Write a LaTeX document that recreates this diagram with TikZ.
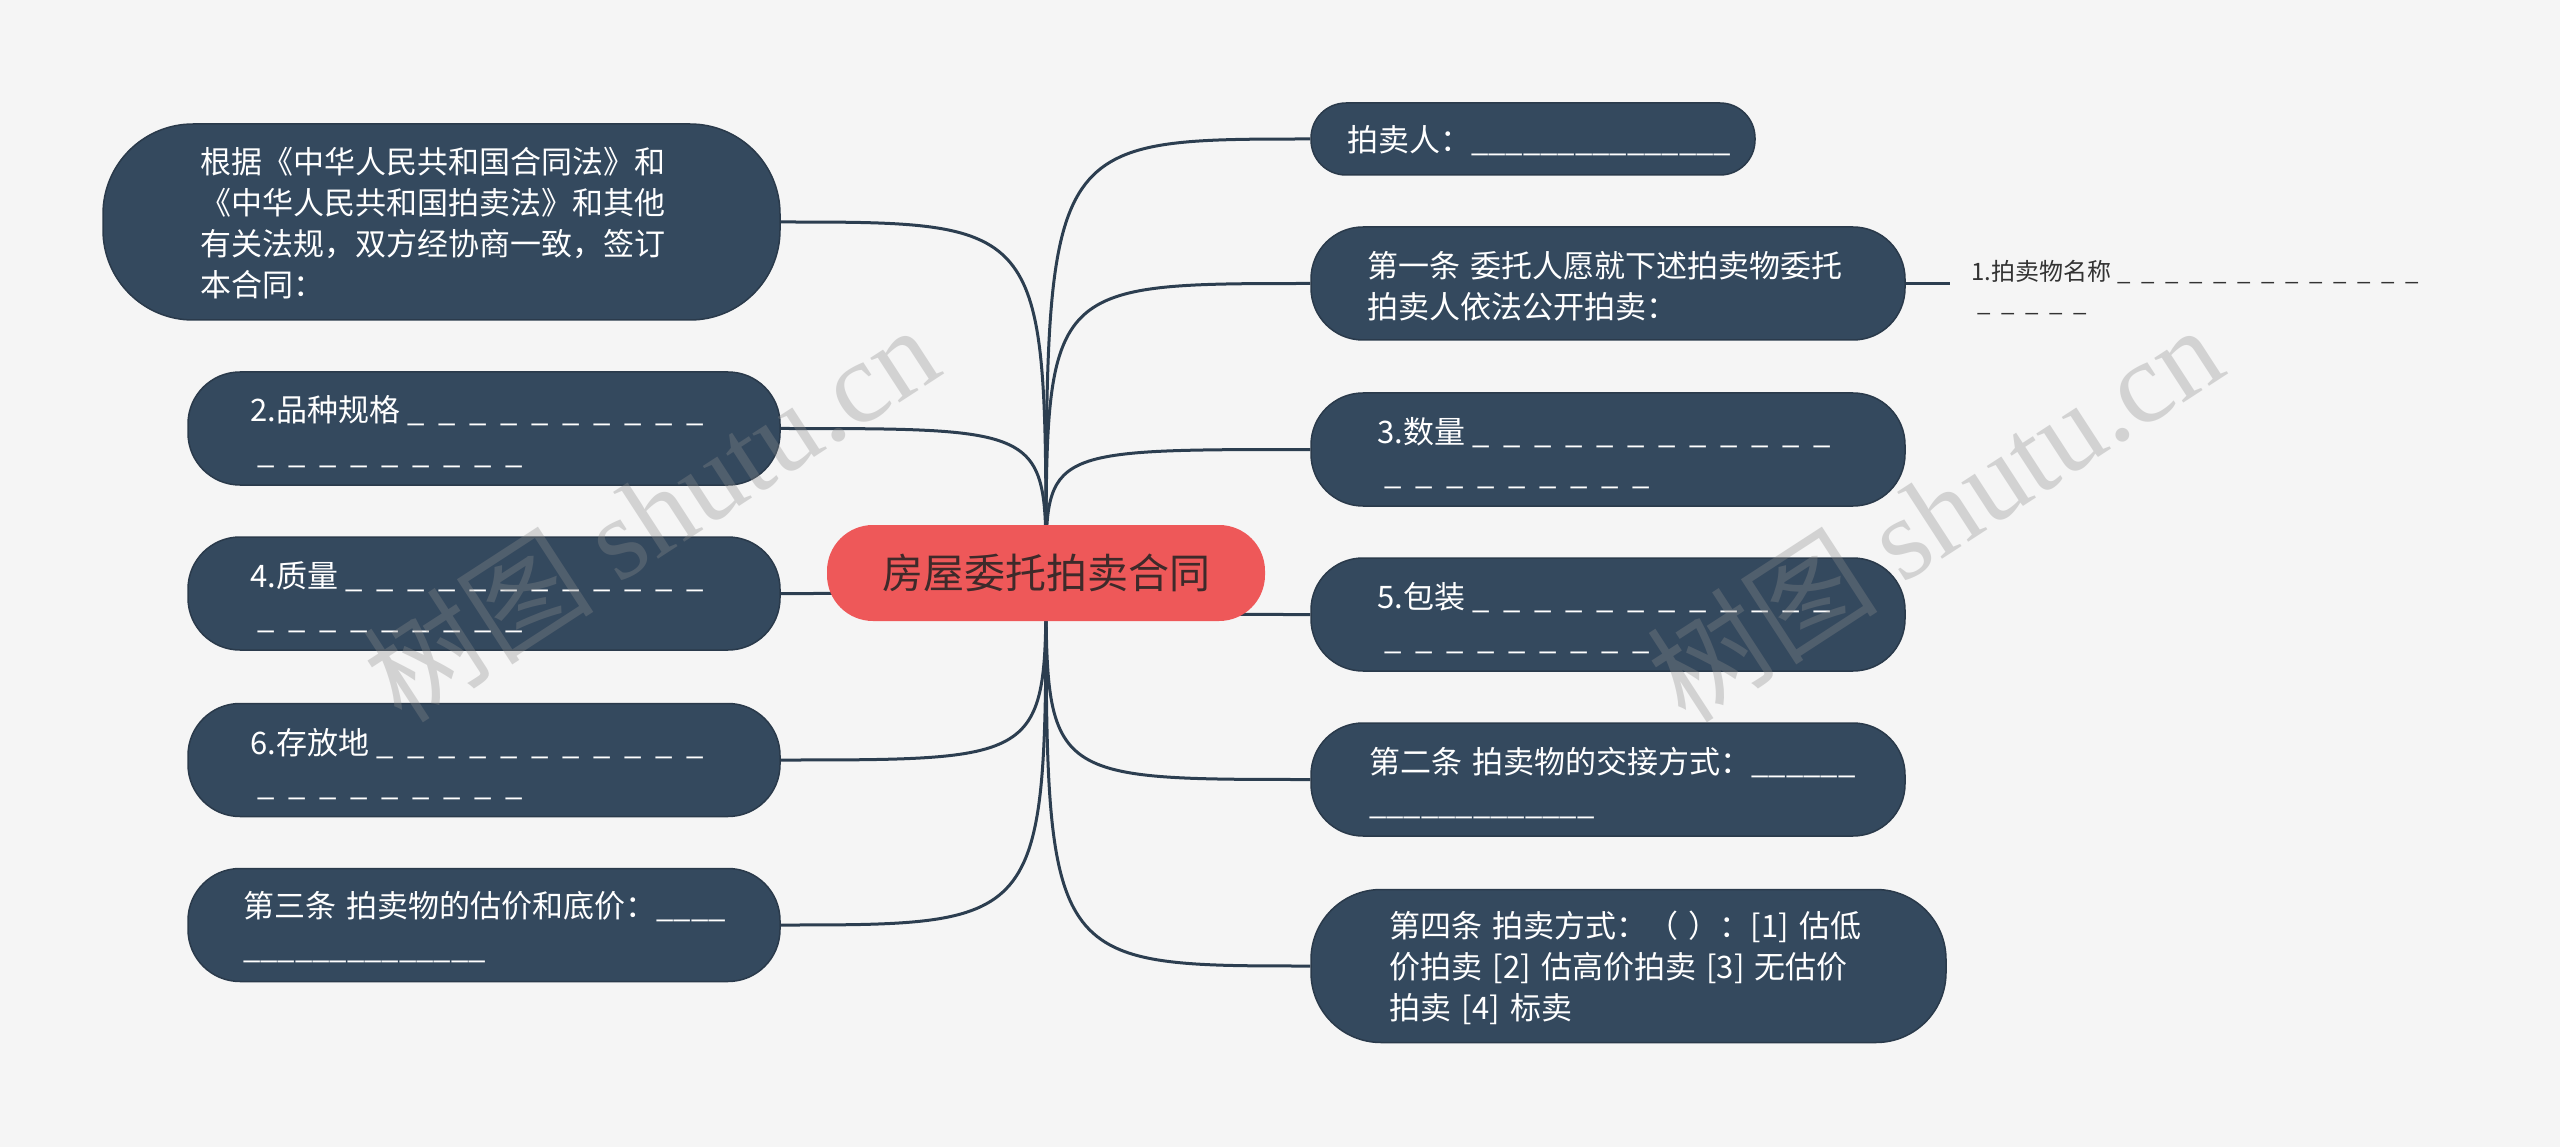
\documentclass[tikz,border=0pt]{standalone}
\usepackage{fontspec}
\setmainfont{Noto Sans CJK SC}
\newfontfamily\wmlatin{Liberation Serif}
\usetikzlibrary{calc}
\definecolor{bgcol}{HTML}{F5F5F5}
\definecolor{nodecol}{HTML}{34495E}
\definecolor{bordercol}{HTML}{2A3A4B}
\definecolor{linkcol}{HTML}{2C3E50}
\definecolor{centercol}{HTML}{EE5859}
\definecolor{centertext}{HTML}{3E2A2A}
\definecolor{childtext}{HTML}{333333}
\newcommand\dsh[1]{\foreach\k in {1,...,#1}{\makebox[1em][l]{\hspace{0.25em}\char"5F}}}
\newcommand\uln[1]{\foreach\k in {1,...,#1}{\char"5F}}
\pgfdeclarelayer{back}
\pgfdeclarelayer{links}
\pgfsetlayers{back,links,main}
\tikzset{
  box/.style={draw=bordercol, line width=1.5pt, fill=nodecol, inner sep=0pt},
  txt/.style={text=white, font=\fontsize{31}{41}\selectfont, text width=#1, align=left, inner sep=0pt, anchor=base west},
  txt/.default=520pt,
  link/.style={draw=linkcol, line width=3pt},
  wm/.style={text=black!45, opacity=0.33, font=\fontsize{116}{116}\selectfont, inner sep=0pt},
}
\begin{document}
\begin{tikzpicture}[x=1pt,y=-1pt]
\begin{pgfonlayer}{back}
\fill[bgcol] (0,0) rectangle (2560,1147);
\end{pgfonlayer}
\useasboundingbox (0,0) rectangle (2560,1147);

% central
\node[fill=centercol, rounded corners=46pt, minimum width=438pt, minimum height=96pt, inner sep=0pt,
      text=centertext, font=\fontsize{41}{50}\selectfont] (c) at (1046,573) {房屋委托拍卖合同};

% left boxes
\node[box, minimum width=677pt, minimum height=196pt, rounded corners=90pt] (L1) at (441.5,222) {};
\node[box, minimum width=592pt, minimum height=113pt, rounded corners=52pt] (L2) at (484,428.5) {};
\node[box, minimum width=592pt, minimum height=113pt, rounded corners=52pt] (L3) at (484,593.5) {};
\node[box, minimum width=592pt, minimum height=113pt, rounded corners=52pt] (L4) at (484,760) {};
\node[box, minimum width=592pt, minimum height=113pt, rounded corners=52pt] (L5) at (484,925) {};

% right boxes
\node[box, minimum width=444pt, minimum height=72pt, rounded corners=35pt] (R1) at (1533,139) {};
\node[box, minimum width=594pt, minimum height=113pt, rounded corners=52pt] (R2) at (1608,283.5) {};
\node[box, minimum width=594pt, minimum height=113pt, rounded corners=52pt] (R3) at (1608,449.5) {};
\node[box, minimum width=594pt, minimum height=113pt, rounded corners=52pt] (R4) at (1608,614.5) {};
\node[box, minimum width=594pt, minimum height=113pt, rounded corners=52pt] (R5) at (1608,779.5) {};
\node[box, minimum width=635pt, minimum height=153pt, rounded corners=70pt] (R6) at (1628.5,966) {};

% texts
\node[txt] (L1t) at (200,174) {根据《中华人民共和国合同法》和\\《中华人民共和国拍卖法》和其他\\有关法规，双方经协商一致，签订\\本合同：};
\node[txt] (L2t) at (250,422) {2.品种规格\dsh{10}\\\dsh{9}};
\node[txt] (L3t) at (250,587) {4.质量\dsh{12}\\\dsh{9}};
\node[txt] (L4t) at (250,754) {6.存放地\dsh{11}\\\dsh{9}};
\node[txt] (L5t) at (243,917) {第三条 拍卖物的估价和底价：\uln{4}\\\uln{14}};

\node[txt=400pt] (R1t) at (1347,152) {拍卖人：\uln{15}};
\node[txt] (R2t) at (1367,278) {第一条 委托人愿就下述拍卖物委托\\拍卖人依法公开拍卖：};
\node[txt] (R3t) at (1377,443) {3.数量\dsh{12}\\\dsh{9}};
\node[txt] (R4t) at (1377,608) {5.包装\dsh{12}\\\dsh{9}};
\node[txt] (R5t) at (1369,773) {第二条 拍卖物的交接方式：\uln{6}\\\uln{13}};
\node[txt=540pt] (R6t) at (1389,937) {第四条 拍卖方式：（ ）：[1] 估低\\价拍卖 [2] 估高价拍卖 [3] 无估价\\拍卖 [4] 标卖};

% child of R2
\coordinate (k1) at (1950,283.5);
\node[txt=500pt, text=childtext, font=\fontsize{24}{31}\selectfont] (C1) at (1971,281) {1.拍卖物名称\dsh{13}\\\dsh{5}};

% connectors
\begin{pgfonlayer}{links}
\foreach \n in {L1,L2,L3,L4,L5} {
  \draw[link] (c.center) .. controls (c.center |- \n.east) .. (\n.east);
}
\foreach \n in {R1,R2,R3,R4,R5,R6} {
  \draw[link] (c.center) .. controls (c.center |- \n.west) .. (\n.west);
}
\draw[link] (R2.east) -- (k1);
\end{pgfonlayer}

% watermark
\node[wm, rotate=33] (wm1) at (650,512) {树图 {\wmlatin shutu.cn}};
\node[wm, rotate=33] (wm2) at (1934,512) {树图 {\wmlatin shutu.cn}};
\end{tikzpicture}
\end{document}
